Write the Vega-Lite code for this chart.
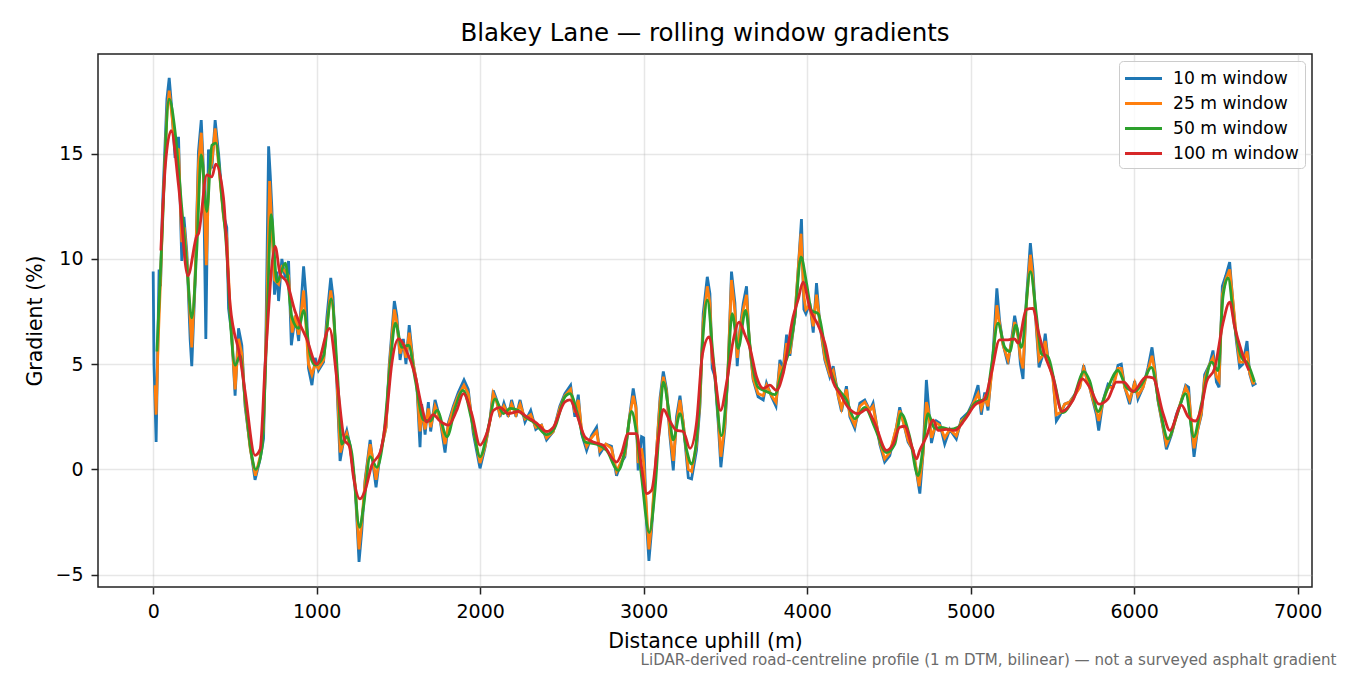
{
  "$schema": "https://vega.github.io/schema/vega-lite/v6.json",
  "width": 1214,
  "height": 533,
  "autosize": {"type": "none"},
  "padding": {"left": 98, "top": 54, "right": 38, "bottom": 88},
  "background": "white",
  "config": {
    "font": "DejaVu Sans",
    "view": {"stroke": "#222222", "strokeWidth": 1.5},
    "axis": {
      "labelFont": "DejaVu Sans",
      "titleFont": "DejaVu Sans",
      "labelColor": "#000000",
      "titleColor": "#000000",
      "labelFontSize": 19,
      "titleFontSize": 20.5,
      "titleFontWeight": "normal",
      "tickColor": "#222222",
      "tickWidth": 1.5,
      "tickSize": 7,
      "labelPadding": 8,
      "domain": false,
      "gridColor": "#b0b0b0",
      "gridOpacity": 0.3,
      "gridWidth": 1.5
    }
  },
  "title": {
    "text": "Blakey Lane — rolling window gradients",
    "font": "DejaVu Sans",
    "fontSize": 24.5,
    "fontWeight": "normal",
    "color": "#000000",
    "anchor": "middle",
    "baseline": "alphabetic",
    "offset": -11.5
  },
  "datasets": {
    "w10": [
      {"d":0,"g":9.4},{"d":5,"g":5.0},{"d":18,"g":1.3},{"d":33,"g":8.1},{"d":36,"g":9.5},{"d":45,"g":8.7},{"d":57,"g":12.5},{"d":84,"g":17.6},{"d":98,"g":18.6},{"d":113,"g":17.2},{"d":134,"g":14.8},{"d":155,"g":15.8},{"d":171,"g":11.0},{"d":175,"g":9.9},{"d":188,"g":12.0},{"d":206,"g":10.3},{"d":226,"g":6.2},{"d":236,"g":4.9},{"d":256,"g":8.8},{"d":277,"g":15.1},{"d":294,"g":16.6},{"d":307,"g":14.3},{"d":322,"g":6.2},{"d":338,"g":15.2},{"d":359,"g":14.3},{"d":379,"g":16.6},{"d":400,"g":15.0},{"d":430,"g":12.1},{"d":450,"g":11.5},{"d":461,"g":7.65},{"d":481,"g":6.4},{"d":501,"g":3.5},{"d":522,"g":6.7},{"d":542,"g":5.9},{"d":562,"g":3.0},{"d":593,"g":1.1},{"d":623,"g":-0.5},{"d":654,"g":0.5},{"d":675,"g":1.45},{"d":690,"g":6.6},{"d":706,"g":15.35},{"d":716,"g":14.0},{"d":726,"g":12.4},{"d":742,"g":8.3},{"d":757,"g":9.4},{"d":767,"g":8.0},{"d":787,"g":10.0},{"d":808,"g":9.1},{"d":828,"g":9.9},{"d":845,"g":5.9},{"d":869,"g":7.3},{"d":890,"g":6.1},{"d":920,"g":9.65},{"d":936,"g":8.1},{"d":950,"g":4.8},{"d":971,"g":4.0},{"d":991,"g":5.3},{"d":1011,"g":4.7},{"d":1042,"g":5.1},{"d":1062,"g":7.2},{"d":1086,"g":9.1},{"d":1100,"g":8.2},{"d":1122,"g":4.35},{"d":1143,"g":0.4},{"d":1164,"g":1.35},{"d":1184,"g":1.85},{"d":1205,"g":1.1},{"d":1235,"g":-0.8},{"d":1259,"g":-4.4},{"d":1276,"g":-2.9},{"d":1296,"g":-0.5},{"d":1327,"g":1.4},{"d":1347,"g":0.1},{"d":1363,"g":-0.85},{"d":1388,"g":0.75},{"d":1424,"g":2.0},{"d":1444,"g":5.0},{"d":1475,"g":8.0},{"d":1490,"g":7.3},{"d":1510,"g":5.2},{"d":1530,"g":6.2},{"d":1546,"g":5.0},{"d":1566,"g":6.85},{"d":1591,"g":5.0},{"d":1612,"g":4.1},{"d":1632,"g":1.05},{"d":1642,"g":3.1},{"d":1663,"g":1.65},{"d":1683,"g":3.2},{"d":1697,"g":1.8},{"d":1724,"g":3.3},{"d":1754,"g":2.4},{"d":1785,"g":0.8},{"d":1805,"g":2.2},{"d":1836,"g":3.0},{"d":1866,"g":3.65},{"d":1901,"g":4.25},{"d":1927,"g":3.8},{"d":1958,"g":1.7},{"d":1999,"g":0.05},{"d":2030,"g":1.05},{"d":2060,"g":2.35},{"d":2080,"g":3.75},{"d":2101,"g":3.3},{"d":2121,"g":2.5},{"d":2145,"g":3.15},{"d":2172,"g":2.5},{"d":2192,"g":3.3},{"d":2219,"g":2.5},{"d":2244,"g":3.3},{"d":2274,"g":2.25},{"d":2309,"g":2.8},{"d":2340,"g":1.9},{"d":2375,"g":2.1},{"d":2406,"g":1.4},{"d":2447,"g":1.8},{"d":2487,"g":3.0},{"d":2518,"g":3.6},{"d":2553,"g":4.0},{"d":2579,"g":2.5},{"d":2600,"g":3.55},{"d":2620,"g":1.7},{"d":2651,"g":0.9},{"d":2681,"g":1.6},{"d":2712,"g":2.0},{"d":2732,"g":0.75},{"d":2769,"g":1.2},{"d":2803,"g":1.1},{"d":2834,"g":-0.3},{"d":2858,"g":0.25},{"d":2885,"g":0.6},{"d":2912,"g":2.4},{"d":2936,"g":3.85},{"d":2953,"g":3.0},{"d":2966,"g":-0.05},{"d":2987,"g":1.55},{"d":3000,"g":1.5},{"d":3018,"g":-2.6},{"d":3032,"g":-4.35},{"d":3048,"g":-2.9},{"d":3079,"g":0.9},{"d":3100,"g":3.4},{"d":3120,"g":4.65},{"d":3140,"g":3.8},{"d":3160,"g":1.6},{"d":3181,"g":-0.05},{"d":3201,"g":2.5},{"d":3222,"g":3.5},{"d":3242,"g":2.2},{"d":3273,"g":-0.4},{"d":3293,"g":-0.45},{"d":3323,"g":0.9},{"d":3344,"g":3.0},{"d":3364,"g":7.4},{"d":3389,"g":9.15},{"d":3405,"g":8.35},{"d":3419,"g":4.8},{"d":3436,"g":4.4},{"d":3456,"g":2.2},{"d":3472,"g":0.1},{"d":3497,"g":2.0},{"d":3517,"g":4.9},{"d":3537,"g":9.4},{"d":3558,"g":7.9},{"d":3572,"g":4.9},{"d":3588,"g":6.6},{"d":3609,"g":7.9},{"d":3629,"g":8.7},{"d":3645,"g":6.15},{"d":3670,"g":4.25},{"d":3700,"g":3.45},{"d":3731,"g":3.3},{"d":3751,"g":4.1},{"d":3782,"g":3.45},{"d":3809,"g":3.0},{"d":3833,"g":5.2},{"d":3853,"g":4.75},{"d":3874,"g":6.4},{"d":3894,"g":5.4},{"d":3925,"g":7.25},{"d":3945,"g":9.5},{"d":3965,"g":11.9},{"d":3980,"g":7.6},{"d":3992,"g":7.4},{"d":4016,"g":7.9},{"d":4037,"g":6.5},{"d":4057,"g":8.85},{"d":4077,"g":6.9},{"d":4108,"g":5.2},{"d":4138,"g":4.4},{"d":4159,"g":4.9},{"d":4190,"g":3.45},{"d":4210,"g":2.75},{"d":4240,"g":3.95},{"d":4261,"g":2.5},{"d":4291,"g":1.95},{"d":4322,"g":3.15},{"d":4352,"g":3.3},{"d":4383,"g":2.8},{"d":4403,"g":3.15},{"d":4444,"g":1.2},{"d":4474,"g":0.35},{"d":4505,"g":0.65},{"d":4546,"g":2.0},{"d":4566,"g":2.95},{"d":4590,"g":2.2},{"d":4617,"g":1.3},{"d":4648,"g":0.9},{"d":4689,"g":-1.15},{"d":4709,"g":0.8},{"d":4729,"g":4.25},{"d":4739,"g":3.3},{"d":4760,"g":1.25},{"d":4790,"g":2.3},{"d":4810,"g":2.2},{"d":4841,"g":1.2},{"d":4872,"g":1.9},{"d":4912,"g":1.45},{"d":4943,"g":2.4},{"d":4984,"g":2.7},{"d":5014,"g":3.2},{"d":5045,"g":4.0},{"d":5065,"g":2.6},{"d":5086,"g":3.65},{"d":5106,"g":2.8},{"d":5137,"g":5.5},{"d":5160,"g":8.6},{"d":5177,"g":7.05},{"d":5198,"g":5.95},{"d":5228,"g":5.0},{"d":5249,"g":6.1},{"d":5269,"g":7.3},{"d":5290,"g":6.4},{"d":5304,"g":5.0},{"d":5320,"g":4.3},{"d":5340,"g":8.0},{"d":5365,"g":10.75},{"d":5381,"g":9.45},{"d":5401,"g":6.75},{"d":5418,"g":4.85},{"d":5438,"g":5.35},{"d":5456,"g":6.45},{"d":5473,"g":5.2},{"d":5503,"g":4.4},{"d":5524,"g":2.3},{"d":5548,"g":2.6},{"d":5575,"g":3.1},{"d":5605,"g":3.2},{"d":5636,"g":3.55},{"d":5667,"g":3.9},{"d":5691,"g":4.95},{"d":5707,"g":4.4},{"d":5728,"g":3.9},{"d":5748,"g":3.25},{"d":5769,"g":2.6},{"d":5783,"g":1.85},{"d":5809,"g":3.25},{"d":5840,"g":4.05},{"d":5870,"g":3.9},{"d":5901,"g":4.95},{"d":5921,"g":5.0},{"d":5942,"g":3.9},{"d":5972,"g":3.1},{"d":6003,"g":4.2},{"d":6023,"g":3.35},{"d":6054,"g":3.9},{"d":6085,"g":4.85},{"d":6109,"g":5.8},{"d":6125,"g":4.85},{"d":6146,"g":3.25},{"d":6177,"g":1.95},{"d":6197,"g":0.95},{"d":6228,"g":1.65},{"d":6258,"g":2.6},{"d":6289,"g":3.25},{"d":6315,"g":4.0},{"d":6333,"g":3.9},{"d":6350,"g":1.95},{"d":6366,"g":0.6},{"d":6386,"g":1.8},{"d":6411,"g":2.6},{"d":6431,"g":4.5},{"d":6462,"g":5.0},{"d":6482,"g":5.65},{"d":6503,"g":4.15},{"d":6519,"g":3.9},{"d":6539,"g":8.7},{"d":6560,"g":9.2},{"d":6584,"g":9.85},{"d":6604,"g":7.9},{"d":6625,"g":6.1},{"d":6645,"g":4.85},{"d":6665,"g":5.0},{"d":6690,"g":6.1},{"d":6706,"g":4.55},{"d":6726,"g":4.0},{"d":6747,"g":4.1}
    ],
    "w25": [
      {"d":12,"g":4.0},{"d":18,"g":2.6},{"d":30,"g":6.0},{"d":45,"g":9.0},{"d":60,"g":12.5},{"d":85,"g":17.0},{"d":98,"g":18.0},{"d":115,"g":16.8},{"d":134,"g":15.3},{"d":155,"g":15.2},{"d":175,"g":10.8},{"d":190,"g":11.5},{"d":206,"g":10.0},{"d":236,"g":5.8},{"d":256,"g":9.0},{"d":277,"g":14.5},{"d":294,"g":16.0},{"d":310,"g":13.5},{"d":325,"g":9.7},{"d":340,"g":14.0},{"d":359,"g":14.6},{"d":379,"g":16.2},{"d":400,"g":14.5},{"d":430,"g":12.0},{"d":450,"g":11.0},{"d":471,"g":7.5},{"d":501,"g":3.8},{"d":522,"g":6.2},{"d":542,"g":5.5},{"d":562,"g":3.2},{"d":593,"g":1.0},{"d":625,"g":-0.3},{"d":654,"g":0.6},{"d":675,"g":2.0},{"d":695,"g":7.5},{"d":712,"g":13.7},{"d":726,"g":11.5},{"d":742,"g":9.0},{"d":767,"g":8.8},{"d":787,"g":9.6},{"d":808,"g":9.4},{"d":828,"g":9.2},{"d":850,"g":6.5},{"d":869,"g":7.3},{"d":890,"g":6.4},{"d":920,"g":8.5},{"d":950,"g":5.0},{"d":971,"g":4.5},{"d":991,"g":5.0},{"d":1011,"g":4.8},{"d":1042,"g":5.2},{"d":1062,"g":6.8},{"d":1086,"g":8.5},{"d":1103,"g":7.5},{"d":1122,"g":4.6},{"d":1144,"g":0.8},{"d":1164,"g":1.3},{"d":1184,"g":1.7},{"d":1205,"g":1.0},{"d":1235,"g":-0.7},{"d":1259,"g":-3.8},{"d":1276,"g":-2.5},{"d":1296,"g":-0.6},{"d":1327,"g":1.2},{"d":1347,"g":0.3},{"d":1363,"g":-0.5},{"d":1388,"g":0.7},{"d":1424,"g":2.0},{"d":1444,"g":4.8},{"d":1475,"g":7.6},{"d":1490,"g":7.0},{"d":1510,"g":5.5},{"d":1530,"g":6.0},{"d":1546,"g":5.3},{"d":1566,"g":6.5},{"d":1591,"g":5.0},{"d":1612,"g":4.1},{"d":1632,"g":1.8},{"d":1642,"g":2.8},{"d":1663,"g":1.9},{"d":1683,"g":2.9},{"d":1697,"g":2.0},{"d":1724,"g":3.0},{"d":1754,"g":2.4},{"d":1785,"g":1.2},{"d":1805,"g":2.1},{"d":1836,"g":2.9},{"d":1866,"g":3.5},{"d":1901,"g":4.0},{"d":1927,"g":3.6},{"d":1958,"g":1.9},{"d":1999,"g":0.3},{"d":2030,"g":1.1},{"d":2060,"g":2.3},{"d":2080,"g":3.6},{"d":2101,"g":3.2},{"d":2121,"g":2.6},{"d":2145,"g":3.0},{"d":2172,"g":2.6},{"d":2192,"g":3.1},{"d":2219,"g":2.6},{"d":2244,"g":3.1},{"d":2274,"g":2.4},{"d":2309,"g":2.6},{"d":2340,"g":2.0},{"d":2375,"g":2.1},{"d":2406,"g":1.5},{"d":2447,"g":1.8},{"d":2487,"g":2.9},{"d":2518,"g":3.5},{"d":2553,"g":3.8},{"d":2579,"g":2.7},{"d":2600,"g":3.3},{"d":2620,"g":1.9},{"d":2651,"g":1.1},{"d":2681,"g":1.5},{"d":2712,"g":1.8},{"d":2732,"g":0.9},{"d":2769,"g":1.2},{"d":2803,"g":1.0},{"d":2834,"g":-0.1},{"d":2858,"g":0.3},{"d":2885,"g":0.7},{"d":2912,"g":2.4},{"d":2936,"g":3.5},{"d":2953,"g":2.9},{"d":2966,"g":0.3},{"d":2987,"g":1.0},{"d":3000,"g":0.3},{"d":3018,"g":-2.0},{"d":3032,"g":-3.8},{"d":3048,"g":-2.6},{"d":3079,"g":0.9},{"d":3100,"g":3.2},{"d":3120,"g":4.4},{"d":3140,"g":3.7},{"d":3160,"g":1.8},{"d":3181,"g":0.4},{"d":3201,"g":2.2},{"d":3222,"g":3.3},{"d":3242,"g":2.2},{"d":3273,"g":0.0},{"d":3293,"g":-0.1},{"d":3323,"g":1.2},{"d":3344,"g":3.2},{"d":3364,"g":7.0},{"d":3389,"g":8.7},{"d":3405,"g":7.9},{"d":3419,"g":5.2},{"d":3436,"g":4.6},{"d":3456,"g":2.5},{"d":3472,"g":0.6},{"d":3497,"g":2.2},{"d":3517,"g":5.0},{"d":3537,"g":9.0},{"d":3558,"g":7.5},{"d":3572,"g":5.3},{"d":3588,"g":6.5},{"d":3609,"g":7.6},{"d":3629,"g":8.3},{"d":3645,"g":6.2},{"d":3670,"g":4.3},{"d":3700,"g":3.6},{"d":3731,"g":3.5},{"d":3751,"g":4.0},{"d":3782,"g":3.5},{"d":3809,"g":3.2},{"d":3833,"g":4.9},{"d":3853,"g":4.7},{"d":3874,"g":6.0},{"d":3894,"g":5.5},{"d":3925,"g":7.3},{"d":3945,"g":9.5},{"d":3962,"g":11.2},{"d":3980,"g":8.2},{"d":3992,"g":7.6},{"d":4016,"g":7.8},{"d":4037,"g":6.8},{"d":4057,"g":8.3},{"d":4077,"g":7.0},{"d":4108,"g":5.3},{"d":4138,"g":4.5},{"d":4159,"g":4.7},{"d":4190,"g":3.5},{"d":4210,"g":2.9},{"d":4240,"g":3.8},{"d":4261,"g":2.6},{"d":4291,"g":2.1},{"d":4322,"g":3.0},{"d":4352,"g":3.2},{"d":4383,"g":2.8},{"d":4403,"g":3.0},{"d":4444,"g":1.3},{"d":4474,"g":0.5},{"d":4505,"g":0.8},{"d":4546,"g":2.0},{"d":4566,"g":2.8},{"d":4590,"g":2.2},{"d":4617,"g":1.4},{"d":4648,"g":0.9},{"d":4685,"g":-0.8},{"d":4709,"g":0.8},{"d":4729,"g":3.2},{"d":4739,"g":2.9},{"d":4760,"g":1.5},{"d":4790,"g":2.2},{"d":4810,"g":2.1},{"d":4841,"g":1.5},{"d":4872,"g":1.9},{"d":4912,"g":1.6},{"d":4943,"g":2.3},{"d":4984,"g":2.6},{"d":5014,"g":3.1},{"d":5045,"g":3.6},{"d":5065,"g":2.9},{"d":5086,"g":3.4},{"d":5106,"g":3.0},{"d":5137,"g":5.2},{"d":5160,"g":7.8},{"d":5177,"g":6.9},{"d":5198,"g":5.9},{"d":5228,"g":5.2},{"d":5249,"g":6.0},{"d":5269,"g":7.0},{"d":5290,"g":6.3},{"d":5304,"g":5.3},{"d":5320,"g":4.8},{"d":5340,"g":7.8},{"d":5365,"g":10.2},{"d":5381,"g":9.0},{"d":5401,"g":6.9},{"d":5418,"g":5.2},{"d":5438,"g":5.4},{"d":5456,"g":6.1},{"d":5473,"g":5.2},{"d":5503,"g":4.3},{"d":5524,"g":2.6},{"d":5548,"g":2.7},{"d":5575,"g":3.1},{"d":5605,"g":3.2},{"d":5636,"g":3.5},{"d":5667,"g":3.9},{"d":5691,"g":4.8},{"d":5707,"g":4.4},{"d":5728,"g":3.9},{"d":5748,"g":3.3},{"d":5769,"g":2.8},{"d":5783,"g":2.3},{"d":5809,"g":3.2},{"d":5840,"g":3.9},{"d":5870,"g":3.9},{"d":5901,"g":4.8},{"d":5921,"g":4.8},{"d":5942,"g":3.9},{"d":5972,"g":3.3},{"d":6003,"g":4.1},{"d":6023,"g":3.5},{"d":6054,"g":3.9},{"d":6085,"g":4.7},{"d":6109,"g":5.4},{"d":6125,"g":4.7},{"d":6146,"g":3.3},{"d":6177,"g":2.0},{"d":6197,"g":1.2},{"d":6228,"g":1.7},{"d":6258,"g":2.5},{"d":6289,"g":3.3},{"d":6315,"g":3.9},{"d":6333,"g":3.6},{"d":6350,"g":2.2},{"d":6366,"g":1.0},{"d":6386,"g":1.8},{"d":6411,"g":2.7},{"d":6431,"g":4.3},{"d":6462,"g":5.0},{"d":6482,"g":5.3},{"d":6503,"g":4.4},{"d":6519,"g":4.2},{"d":6539,"g":8.3},{"d":6560,"g":9.0},{"d":6584,"g":9.5},{"d":6604,"g":8.0},{"d":6625,"g":6.3},{"d":6645,"g":5.1},{"d":6665,"g":5.1},{"d":6690,"g":5.6},{"d":6706,"g":4.6},{"d":6726,"g":4.1},{"d":6738,"g":4.1}
    ],
    "w50": [
      {"d":23,"g":5.6},{"d":50,"g":10.35},{"d":98,"g":17.6},{"d":134,"g":16.05},{"d":175,"g":12.4},{"d":206,"g":9.7},{"d":236,"g":7.2},{"d":267,"g":10.5},{"d":294,"g":14.95},{"d":328,"g":12.25},{"d":359,"g":15.4},{"d":383,"g":15.5},{"d":420,"g":12.9},{"d":450,"g":10.35},{"d":471,"g":7.2},{"d":501,"g":4.95},{"d":532,"g":5.4},{"d":562,"g":3.35},{"d":603,"g":0.65},{"d":627,"g":0.0},{"d":665,"g":1.0},{"d":695,"g":6.55},{"d":722,"g":12.1},{"d":757,"g":8.9},{"d":808,"g":9.8},{"d":849,"g":7.2},{"d":890,"g":6.7},{"d":920,"g":7.55},{"d":961,"g":5.4},{"d":991,"g":4.95},{"d":1042,"g":5.4},{"d":1089,"g":8.1},{"d":1129,"g":4.3},{"d":1153,"g":1.2},{"d":1184,"g":1.55},{"d":1215,"g":0.75},{"d":1262,"g":-2.75},{"d":1286,"g":-1.8},{"d":1327,"g":0.6},{"d":1368,"g":0.1},{"d":1409,"g":1.55},{"d":1450,"g":5.0},{"d":1481,"g":6.95},{"d":1522,"g":5.8},{"d":1562,"g":5.9},{"d":1603,"g":4.25},{"d":1654,"g":2.35},{"d":1695,"g":2.3},{"d":1736,"g":2.8},{"d":1797,"g":1.55},{"d":1848,"g":2.95},{"d":1895,"g":3.75},{"d":1948,"g":2.35},{"d":1999,"g":0.6},{"d":2050,"g":2.0},{"d":2091,"g":3.35},{"d":2142,"g":2.65},{"d":2183,"g":2.9},{"d":2233,"g":2.8},{"d":2274,"g":2.5},{"d":2335,"g":2.2},{"d":2406,"g":1.65},{"d":2457,"g":2.0},{"d":2518,"g":3.45},{"d":2549,"g":3.6},{"d":2600,"g":2.5},{"d":2640,"g":1.3},{"d":2712,"g":1.2},{"d":2773,"g":0.9},{"d":2844,"g":-0.05},{"d":2885,"g":0.9},{"d":2926,"g":2.75},{"d":2956,"g":1.7},{"d":2987,"g":-0.35},{"d":3034,"g":-3.0},{"d":3069,"g":-1.0},{"d":3100,"g":2.5},{"d":3120,"g":4.15},{"d":3151,"g":2.95},{"d":3181,"g":1.4},{"d":3222,"g":2.65},{"d":3263,"g":0.9},{"d":3293,"g":0.25},{"d":3334,"g":2.35},{"d":3364,"g":6.45},{"d":3389,"g":8.05},{"d":3425,"g":5.35},{"d":3476,"g":1.6},{"d":3507,"g":3.6},{"d":3541,"g":7.4},{"d":3578,"g":5.75},{"d":3623,"g":7.55},{"d":3660,"g":5.2},{"d":3700,"g":3.9},{"d":3751,"g":3.7},{"d":3802,"g":3.55},{"d":3843,"g":4.55},{"d":3894,"g":5.8},{"d":3925,"g":7.25},{"d":3962,"g":10.1},{"d":3996,"g":8.85},{"d":4027,"g":7.55},{"d":4067,"g":7.4},{"d":4118,"g":5.35},{"d":4169,"g":4.1},{"d":4240,"g":3.3},{"d":4291,"g":2.4},{"d":4352,"g":2.95},{"d":4413,"g":2.0},{"d":4485,"g":0.8},{"d":4536,"g":1.2},{"d":4575,"g":2.65},{"d":4627,"g":1.55},{"d":4678,"g":-0.3},{"d":4709,"g":1.05},{"d":4739,"g":2.65},{"d":4780,"g":1.95},{"d":4821,"g":2.0},{"d":4872,"g":1.9},{"d":4922,"g":2.0},{"d":4973,"g":2.55},{"d":5034,"g":3.2},{"d":5095,"g":3.35},{"d":5126,"g":4.85},{"d":5167,"g":6.95},{"d":5208,"g":5.8},{"d":5239,"g":5.6},{"d":5276,"g":6.85},{"d":5310,"g":5.8},{"d":5365,"g":9.4},{"d":5401,"g":7.4},{"d":5432,"g":5.5},{"d":5473,"g":5.35},{"d":5514,"g":4.1},{"d":5561,"g":2.7},{"d":5626,"g":3.35},{"d":5693,"g":4.65},{"d":5728,"g":4.2},{"d":5779,"g":2.75},{"d":5830,"g":3.7},{"d":5901,"g":4.7},{"d":5952,"g":3.9},{"d":6003,"g":3.7},{"d":6054,"g":4.15},{"d":6105,"g":4.85},{"d":6156,"g":2.95},{"d":6207,"g":1.45},{"d":6258,"g":2.5},{"d":6315,"g":3.6},{"d":6364,"g":1.55},{"d":6411,"g":3.1},{"d":6473,"g":5.1},{"d":6513,"g":4.7},{"d":6543,"g":8.2},{"d":6574,"g":9.1},{"d":6614,"g":6.8},{"d":6655,"g":5.35},{"d":6696,"g":5.0},{"d":6736,"g":4.15}
    ],
    "w100": [
      {"d":47,"g":10.4},{"d":75,"g":14.5},{"d":110,"g":16.1},{"d":155,"g":13.5},{"d":212,"g":9.2},{"d":267,"g":11.1},{"d":277,"g":11.2},{"d":328,"g":14.0},{"d":359,"g":13.9},{"d":383,"g":14.5},{"d":430,"g":12.9},{"d":471,"g":7.8},{"d":532,"g":5.3},{"d":562,"g":3.7},{"d":623,"g":0.67},{"d":654,"g":0.95},{"d":685,"g":5.0},{"d":746,"g":10.6},{"d":776,"g":9.3},{"d":817,"g":8.9},{"d":868,"g":7.5},{"d":898,"g":6.9},{"d":939,"g":6.2},{"d":1000,"g":5.0},{"d":1078,"g":6.7},{"d":1129,"g":3.9},{"d":1170,"g":1.4},{"d":1200,"g":1.1},{"d":1225,"g":-0.37},{"d":1265,"g":-1.4},{"d":1296,"g":-1.0},{"d":1337,"g":0.2},{"d":1388,"g":0.8},{"d":1428,"g":2.65},{"d":1459,"g":5.0},{"d":1500,"g":6.2},{"d":1551,"g":5.6},{"d":1601,"g":4.5},{"d":1642,"g":3.0},{"d":1673,"g":2.25},{"d":1713,"g":2.6},{"d":1754,"g":2.3},{"d":1805,"g":2.1},{"d":1856,"g":2.8},{"d":1897,"g":3.6},{"d":1948,"g":2.65},{"d":1999,"g":1.15},{"d":2040,"g":1.7},{"d":2080,"g":2.8},{"d":2121,"g":2.95},{"d":2172,"g":2.65},{"d":2233,"g":2.75},{"d":2284,"g":2.5},{"d":2345,"g":2.2},{"d":2406,"g":1.8},{"d":2447,"g":2.0},{"d":2518,"g":3.2},{"d":2549,"g":3.3},{"d":2589,"g":2.65},{"d":2640,"g":1.55},{"d":2691,"g":1.3},{"d":2752,"g":1.15},{"d":2834,"g":0.35},{"d":2864,"g":0.75},{"d":2905,"g":1.7},{"d":2956,"g":1.7},{"d":2987,"g":0.1},{"d":3018,"g":-1.15},{"d":3048,"g":-1.0},{"d":3089,"g":1.4},{"d":3120,"g":2.85},{"d":3160,"g":2.3},{"d":3201,"g":1.85},{"d":3242,"g":1.8},{"d":3283,"g":1.0},{"d":3323,"g":2.2},{"d":3360,"g":5.5},{"d":3401,"g":6.3},{"d":3436,"g":4.4},{"d":3470,"g":2.8},{"d":3507,"g":4.1},{"d":3547,"g":6.1},{"d":3584,"g":7.0},{"d":3619,"g":6.4},{"d":3649,"g":5.8},{"d":3690,"g":4.4},{"d":3731,"g":3.85},{"d":3772,"g":4.0},{"d":3812,"g":3.75},{"d":3853,"g":4.55},{"d":3914,"g":7.25},{"d":3944,"g":8.05},{"d":3975,"g":8.9},{"d":4016,"g":7.65},{"d":4067,"g":6.85},{"d":4108,"g":6.0},{"d":4159,"g":4.15},{"d":4200,"g":3.6},{"d":4250,"g":2.95},{"d":4311,"g":2.65},{"d":4363,"g":2.85},{"d":4413,"g":2.2},{"d":4485,"g":0.9},{"d":4525,"g":1.2},{"d":4566,"g":2.0},{"d":4597,"g":2.05},{"d":4638,"g":1.15},{"d":4668,"g":0.5},{"d":4688,"g":0.9},{"d":4729,"g":1.55},{"d":4770,"g":2.35},{"d":4800,"g":1.85},{"d":4851,"g":1.9},{"d":4902,"g":1.85},{"d":4963,"g":2.35},{"d":5024,"g":3.05},{"d":5086,"g":3.35},{"d":5126,"g":4.55},{"d":5177,"g":6.15},{"d":5218,"g":6.15},{"d":5269,"g":6.2},{"d":5290,"g":6.0},{"d":5340,"g":7.6},{"d":5381,"g":7.65},{"d":5412,"g":6.6},{"d":5452,"g":5.45},{"d":5503,"g":4.4},{"d":5558,"g":2.75},{"d":5626,"g":3.3},{"d":5683,"g":4.3},{"d":5728,"g":3.9},{"d":5785,"g":3.1},{"d":5840,"g":3.35},{"d":5891,"g":4.15},{"d":5936,"g":4.15},{"d":5993,"g":3.7},{"d":6074,"g":4.4},{"d":6115,"g":4.35},{"d":6177,"g":2.65},{"d":6218,"g":1.85},{"d":6289,"g":3.05},{"d":6330,"g":2.5},{"d":6374,"g":2.3},{"d":6411,"g":2.95},{"d":6442,"g":4.15},{"d":6492,"g":4.8},{"d":6543,"g":6.95},{"d":6584,"g":7.95},{"d":6614,"g":6.8},{"d":6655,"g":5.65},{"d":6702,"g":4.7}
    ]
  },
  "resolve": {"axis": {"x": "independent"}},
  "layer": [
    {
      "data": {"name": "w10"},
      "mark": {"type": "line", "strokeWidth": 2.8, "interpolate": "linear"},
      "encoding": {
        "x": {
          "field": "d", "type": "quantitative",
          "scale": {"domain": [-337.5, 7087.5], "nice": false, "zero": false},
          "axis": {
            "title": "Distance uphill (m)",
            "values": [0, 1000, 2000, 3000, 4000, 5000, 6000, 7000],
            "format": "d",
            "grid": true,
            "titleY": 60,
            "titleBaseline": "alphabetic"
          }
        },
        "y": {
          "field": "g", "type": "quantitative",
          "scale": {"domain": [-5.59, 19.74], "nice": false, "zero": false},
          "axis": {
            "title": "Gradient (%)",
            "values": [-5, 0, 5, 10, 15],
            "grid": true,
            "titleX": -57,
            "titleY": 266.5,
            "titleAlign": "center",
            "titleBaseline": "alphabetic",
            "titleAngle": 270
          }
        },
        "color": {
          "datum": "10 m window", "type": "nominal",
          "scale": {
            "domain": ["10 m window", "25 m window", "50 m window", "100 m window"],
            "range": ["#1f77b4", "#ff7f0e", "#2ca02c", "#d62728"]
          },
          "legend": {
            "title": null,
            "orient": "top-right",
            "offset": 7,
            "labelFont": "DejaVu Sans",
            "labelFontSize": 17.2,
            "labelColor": "#000000",
            "symbolType": "M-1.15,0H2.55",
            "symbolSize": 400,
            "symbolStrokeWidth": 2.8,
            "labelOffset": 25,
            "rowPadding": 5,
            "padding": 6,
            "fillColor": "rgba(255,255,255,0.8)",
            "strokeColor": "#cccccc",
            "cornerRadius": 4
          }
        }
      }
    },
    {
      "data": {"name": "w25"},
      "mark": {"type": "line", "strokeWidth": 2.8, "interpolate": "linear"},
      "encoding": {
        "x": {
          "field": "d", "type": "quantitative",
          "axis": {
            "orient": "bottom",
            "title": "LiDAR-derived road-centreline profile (1 m DTM, bilinear) — not a surveyed asphalt gradient",
            "labels": false,
            "ticks": false,
            "domain": false,
            "grid": false,
            "titleFontSize": 15.1,
            "titleColor": "#6b6b6b",
            "titleAnchor": "end",
            "titleAlign": "right",
            "titleX": 1238,
            "titleY": 77.3,
            "titleBaseline": "alphabetic"
          }
        },
        "y": {"field": "g", "type": "quantitative"},
        "color": {"datum": "25 m window", "type": "nominal"}
      }
    },
    {
      "data": {"name": "w50"},
      "mark": {"type": "line", "strokeWidth": 2.8, "interpolate": "monotone"},
      "encoding": {
        "x": {"field": "d", "type": "quantitative", "axis": null},
        "y": {"field": "g", "type": "quantitative"},
        "color": {"datum": "50 m window", "type": "nominal"}
      }
    },
    {
      "data": {"name": "w100"},
      "mark": {"type": "line", "strokeWidth": 2.8, "interpolate": "monotone"},
      "encoding": {
        "x": {"field": "d", "type": "quantitative", "axis": null},
        "y": {"field": "g", "type": "quantitative"},
        "color": {"datum": "100 m window", "type": "nominal"}
      }
    }
  ]
}
